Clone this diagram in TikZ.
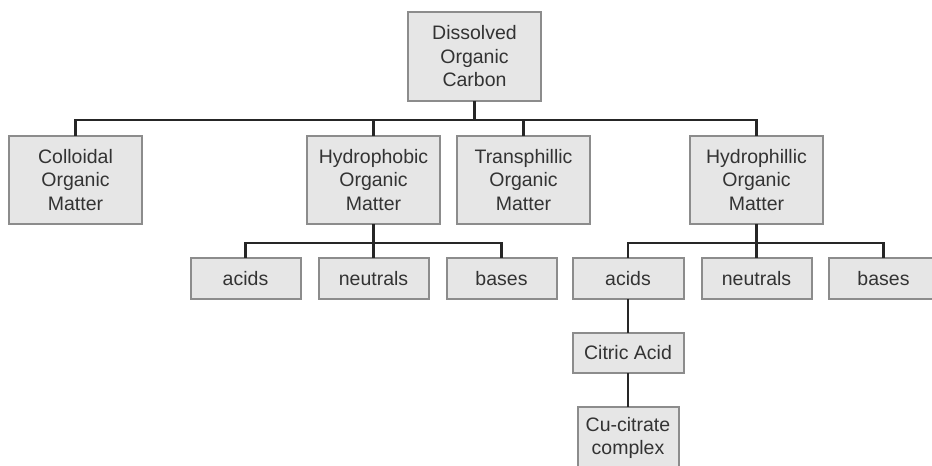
\documentclass[tikz,border=0pt]{standalone}
\usepackage{fontspec}
\setmainfont{Liberation Sans}
\usetikzlibrary{positioning}

\definecolor{boxfill}{HTML}{E6E6E6}
\definecolor{boxedge}{HTML}{8C8C8C}
\definecolor{inktext}{HTML}{333333}

\begin{document}
\begin{tikzpicture}[
    x=1pt, y=1pt,
    font=\fontsize{19.5}{23.5}\selectfont,
    box/.style={
        rectangle,
        draw=boxedge,
        fill=boxfill,
        line width=2pt,
        text=inktext,
        align=center,
        inner sep=0pt,
        outer sep=0pt
    },
    group/.style={
        box,
        minimum width=133pt,
        minimum height=88pt
    },
    leaf/.style={
        box,
        minimum width=110pt,
        minimum height=41pt
    },
    link/.style={
        draw,
        line width=2.5pt,
        line join=miter,
        color=black!85
    }
]

    % page frame, anything past it is cut off
    \fill[white] (0,0) rectangle (932,-466);
    \clip (0,0) rectangle (932,-466);

    % --- Nodes ---

    % Root
    \node [group, minimum height=89pt] (doc) at (474.5,-56.5) {Dissolved\\Organic\\Carbon};

    % Fractions
    \node [group] (colloid) at (75.5,-180) {Colloidal\\Organic\\Matter};
    \node [group, right=165pt of colloid] (hphob) {Hydrophobic\\Organic\\Matter};
    \node [group, right=17pt of hphob] (trans) {Transphillic\\Organic\\Matter};
    \node [group, right=100pt of trans] (hphil) {Hydrophillic\\Organic\\Matter};

    % Hydrophobic sub-fractions
    \node [leaf, below=34pt of hphob] (phobneut) {neutrals};
    \node [leaf, left=18pt of phobneut] (phobacid) {acids};
    \node [leaf, right=18pt of phobneut] (phobbase) {bases};

    % Hydrophillic sub-fractions
    \node [leaf, below=34pt of hphil] (philneut) {neutrals};
    \node [leaf, minimum width=111pt, left=18pt of philneut] (philacid) {acids};
    \node [leaf, right=17pt of philneut] (philbase) {bases};

    % Citric acid chain
    \node [leaf, minimum width=111pt, minimum height=40pt, below=34pt of philacid] (citric) {Citric Acid};
    \node [box, minimum width=101pt, minimum height=62pt, below=34pt of citric] (cucit) {Cu-citrate\\complex};

    % junction points on the buses
    \coordinate [below=19pt of doc] (docjoin);
    \coordinate [below=19pt of hphob] (phobjoin);
    \coordinate [below=19pt of hphil] (philjoin);

    % --- Connections ---

    % 1. Root to fractions
    \path [link] (doc) -- (docjoin) -| (colloid);
    \path [link] (docjoin) -| (hphob);
    \path [link] (docjoin) -| (trans);
    \path [link] (docjoin) -| (hphil);

    % 2. Hydrophobic split
    \path [link] (hphob) -- (phobjoin) -| (phobacid);
    \path [link] (phobjoin) -| (phobneut);
    \path [link] (phobjoin) -| (phobbase);

    % 3. Hydrophillic split
    \path [link] (hphil) -- (philjoin) -| (philacid);
    \path [link] (philjoin) -| (philneut);
    \path [link] (philjoin) -| (philbase);

    % 4. Acids down to the copper complex
    \path [link] (philacid) -- (citric);
    \path [link] (citric) -- (cucit);

\end{tikzpicture}
\end{document}
